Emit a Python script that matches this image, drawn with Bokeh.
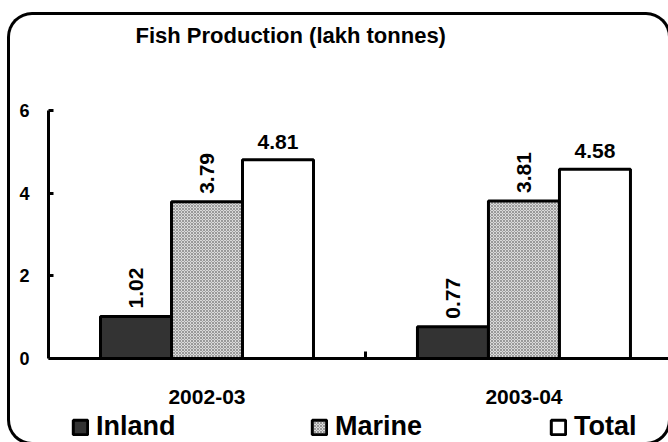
from math import pi
from bokeh.plotting import figure
from bokeh.models import (Range1d, FixedTicker, Legend, LegendItem, Title)
from bokeh.core.properties import value
from bokeh.embed import file_html
from bokeh.resources import INLINE

# ---- data ----
years = ["2002-03", "2003-04"]
series = ["Inland", "Marine", "Total"]
inland = [1.02, 0.77]
marine = [3.79, 3.81]
total = [4.81, 4.58]
y_ticks = [0, 2, 4, 6]
title_text = "Fish Production (lakh tonnes)"

FONT = "Liberation Sans"
BAR_W = 0.224

# frame runs from the top of the value axis down to the page bottom; the
# x axis sits at y=0 inside it, leaving room for category labels and legend
p = figure(frame_width=620, frame_height=332, output_backend="svg",
           toolbar_location=None,
           x_range=Range1d(0, 1.956), y_range=Range1d(-2.03, 6),
           min_border_left=38, min_border_right=0, min_border_top=95,
           min_border_bottom=0, background_fill_color=None,
           border_fill_color=None, outline_line_color=None)
p.grid.visible = False
p.styles = {"box-shadow": "0 0 0 3px black", "border-radius": "22px",
            "margin-top": "15px", "margin-left": "10px"}

# real title (outermost) and a blank spacer title between it and the frame
p.title = Title(text=title_text, align="left", offset=87, standoff=6,
                text_font=FONT, text_font_style="bold",
                text_font_size="22px", text_color="black")
p.add_layout(Title(text=" ", standoff=33, text_font=FONT,
                   text_font_size="22px"), "above")

centers = [i + 0.5 for i in range(len(years))]
styles = {
    "Inland": dict(fill_color="#333333"),
    "Marine": dict(fill_color="#dadada", hatch_pattern="diagonal_cross",
                   hatch_color="#999999", hatch_scale=3, hatch_weight=1),
    "Total": dict(fill_color="white"),
}
values = {"Inland": inland, "Marine": marine, "Total": total}
renderers = {}
for k, name in enumerate(series):
    off = (k - 1) * BAR_W
    xs = [c + off for c in centers]
    renderers[name] = p.vbar(x=xs, top=values[name], width=BAR_W, bottom=0,
                             line_color="black", line_width=3, **styles[name])
    txt = [f"{v:.2f}" for v in values[name]]
    if name == "Total":
        p.text(x=xs, y=values[name], text=txt, text_align="center",
               text_baseline="bottom", y_offset=-11,
               text_font=value(FONT), text_font_style="bold",
               text_font_size="21px", text_color="black")
    else:
        p.text(x=xs, y=values[name], text=txt, angle=pi / 2,
               text_align="left", text_baseline="middle", y_offset=-8,
               text_font=value(FONT), text_font_style="bold",
               text_font_size="21px", text_color="black")

# y axis
p.yaxis.ticker = FixedTicker(ticks=y_ticks)
p.yaxis.bounds = (min(y_ticks), max(y_ticks))
p.yaxis.axis_line_width = 3
p.yaxis.major_tick_line_width = 3
p.yaxis.major_tick_in = 5
p.yaxis.major_tick_out = 0
p.yaxis.minor_tick_line_color = None
p.yaxis.major_label_standoff = 19
p.yaxis.major_label_text_font = FONT
p.yaxis.major_label_text_font_style = "bold"
p.yaxis.major_label_text_font_size = "18px"
p.yaxis.major_label_text_color = "black"

# x axis
p.xaxis.fixed_location = 0
p.xaxis.ticker = FixedTicker(ticks=centers,
                             minor_ticks=[i + 1.0 for i in range(len(years))])
p.xaxis.major_label_overrides = {c: y for c, y in zip(centers, years)}
p.xaxis.axis_line_width = 3
p.xaxis.major_tick_line_color = None
p.xaxis.minor_tick_in = 7
p.xaxis.minor_tick_out = 0
p.xaxis.minor_tick_line_width = 3
p.xaxis.major_label_standoff = 25
p.xaxis.major_label_text_font = FONT
p.xaxis.major_label_text_font_style = "bold"
p.xaxis.major_label_text_font_size = "21px"
p.xaxis.major_label_text_color = "black"

legend = Legend(items=[LegendItem(label=n, renderers=[renderers[n]]) for n in series],
                orientation="horizontal", location=(23, 0), spacing=0,
                label_width=214,
                glyph_width=18, glyph_height=18, label_standoff=7,
                label_text_font=FONT, label_text_font_style="bold",
                label_text_font_size="27px", label_text_color="black",
                border_line_color=None, background_fill_alpha=0,
                padding=0, margin=0)
p.add_layout(legend)

open("out.html", "w").write(file_html(p, INLINE))
